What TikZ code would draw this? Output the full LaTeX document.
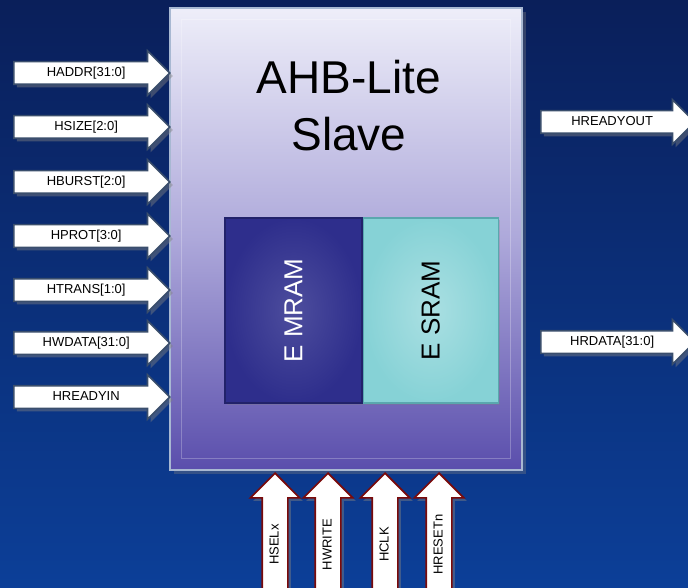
\documentclass[tikz,border=0pt]{standalone}
\usepackage{fontspec}
\setmainfont{Liberation Sans}
\usetikzlibrary{shapes.arrows,shadows,positioning}
\definecolor{navytop}{HTML}{0A1F5A}
\definecolor{navybottom}{HTML}{0C3F98}
\definecolor{slavetop}{HTML}{EEEEF9}
\definecolor{slavemid}{HTML}{ADA8DA}
\definecolor{slavebottom}{HTML}{5A4EAC}
\definecolor{slaveedge}{HTML}{A8B8D2}
\definecolor{arrowedge}{HTML}{3A4E6C}
\definecolor{clkedge}{HTML}{7A0A0A}
\definecolor{mramfill}{HTML}{2E2E8C}
\definecolor{mramedge}{HTML}{22226A}
\definecolor{sramfill}{HTML}{86D2D6}
\definecolor{sramedge}{HTML}{5AA8AE}
\tikzset{
    sig-base/.style = {single arrow, fill=white, line width=1.6pt, inner xsep=4pt,
        text height=9.5pt, text depth=2.5pt, font=\fontsize{13}{15}\selectfont,
        drop shadow={opacity=0.45, shadow xshift=3pt, shadow yshift=-3pt}},
    sig-in/.style = {sig-base, draw=arrowedge, inner ysep=4.5pt, single arrow head extend=11pt, minimum height=156pt, anchor=tail},
    sig-out/.style = {sig-in, minimum height=154pt},
    sig-up/.style = {sig-base, draw=clkedge, rotate=90, inner ysep=6pt, single arrow head extend=12pt, minimum height=130pt, anchor=tip},
    slave-box/.style = {draw=slaveedge, line width=1.2pt, rectangle, top color=slavetop, bottom color=slavebottom, middle color=slavemid,
        minimum width=352pt, minimum height=462pt, drop shadow={opacity=0.35, shadow xshift=4pt, shadow yshift=-4pt}},
    bevel-line/.style = {draw=white, opacity=0.25, line width=1pt},
    mem-box/.style = {rectangle, line width=1.2pt, minimum height=185pt,
        drop shadow={opacity=0.3, shadow xshift=2pt, shadow yshift=-2pt}},
    mram-box/.style = {mem-box, draw=mramedge, inner color=mramfill!85!white, outer color=mramfill, minimum width=137pt},
    sram-box/.style = {mem-box, draw=sramedge, inner color=sramfill!70!white, outer color=sramfill, minimum width=135pt},
    title-text/.style = {align=center, font=\fontsize{46}{57}\selectfont, inner sep=0pt},
}

\begin{document}
\begin{tikzpicture}[x=1pt, y=-1pt]
\useasboundingbox (0,0) rectangle (688,588);
\clip (0,0) rectangle (688,588);
\fill[top color=navytop, bottom color=navybottom] (0,0) rectangle (688,588);

% slave block
\node[slave-box] (slave) at (346,239) {};
\draw[bevel-line] ([shift={(12,12)}]slave.north west) rectangle ([shift={(-12,-12)}]slave.south east);
\node[title-text] (title) at (349,106) {AHB-Lite\\Slave};

% memories
\node[mram-box] (mram) at (293.5,310.5) {};
\node[sram-box, right=0pt of mram] (sram) {};
\node[rotate=90, text=white, font=\fontsize{26}{30}\selectfont] (mramlabel) at (mram) {E MRAM};
\node[rotate=90, font=\fontsize{26}{30}\selectfont] (sramlabel) at (sram) {E SRAM};

% inputs
\node[sig-in] (haddr) at (13,73) {HADDR[31:0]};
\node[sig-in] (hsize) at (13,127) {HSIZE[2:0]};
\node[sig-in] (hburst) at (13,182) {HBURST[2:0]};
\node[sig-in] (hprot) at (13,236) {HPROT[3:0]};
\node[sig-in] (htrans) at (13,290) {HTRANS[1:0]};
\node[sig-in] (hwdata) at (13,343) {HWDATA[31:0]};
\node[sig-in] (hreadyin) at (13,397) {HREADYIN};

% outputs
\node[sig-out] (hreadyout) at (540,122) {HREADYOUT};
\node[sig-out] (hrdata) at (540,342) {HRDATA[31:0]};

% control
\node[sig-up] (hsel) at (275,472) {HSELx};
\node[sig-up] (hwrite) at (328,472) {HWRITE};
\node[sig-up] (hclk) at (385,472) {HCLK};
\node[sig-up] (hresetn) at (439,472) {HRESETn};
\end{tikzpicture}
\end{document}
